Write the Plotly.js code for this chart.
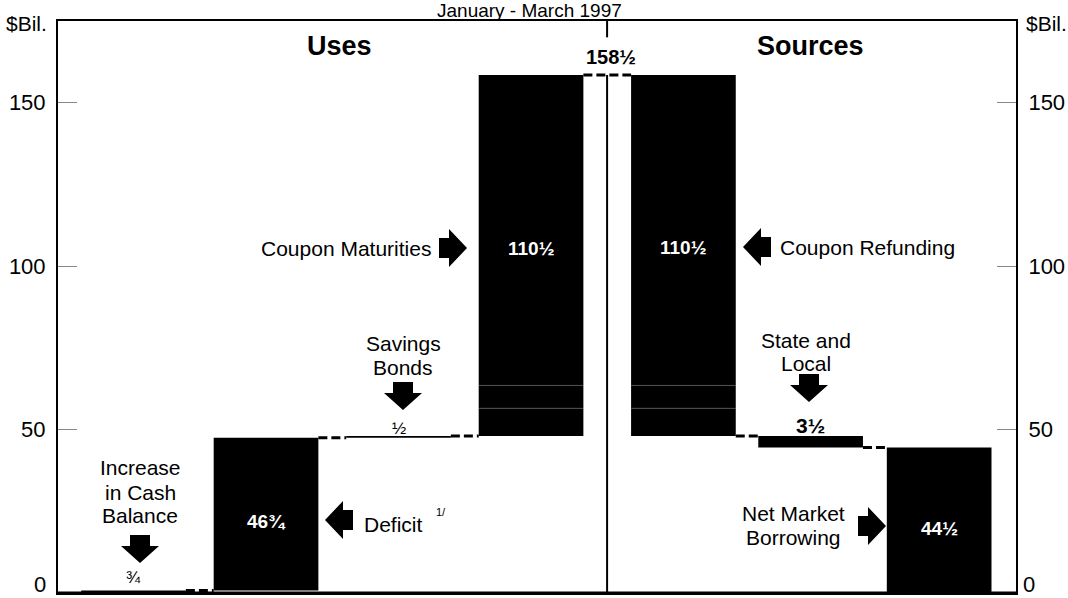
<!DOCTYPE html>
<html><head><meta charset="utf-8">
<script src="https://cdn.plot.ly/plotly-3.0.1.min.js"></script>
<style>html,body{margin:0;padding:0;background:#fff}#chart{width:1068px;height:598px}</style>
</head><body><div id="chart"></div>
<script>
// ---- data ($ billions) ----
const useLabels = ["Increase in Cash Balance", "Deficit", "Savings Bonds", "Coupon Maturities"];
const useValues = [0.75, 46.75, 0.5, 110.5];
const useValueText = ["¾", "46¾", "½", "110½"];
const sourceLabels = ["Coupon Refunding", "State and Local", "Net Market Borrowing"];
const sourceValues = [110.5, 3.5, 44.5];
const sourceValueText = ["110½", "3½", "44½"];
const couponParts = [8.5, 7, 95];   // faint sub-segments of the coupon bars, bottom to top
const totalText = "158½";
const yTickVals = [0, 50, 100, 150];
const yTickText = ["0", "50", "100", "150"];

// ---- layout positions (not data) ----
const usePos = [0, 1, 2, 3];
const sourcePos = [4.15, 5.11, 6.08];
const barWidth = 0.79;
const dividerX = 3.574;
const XR = [-0.57, 6.66], YR = [0, 175];
const FONT = "Liberation Sans, Arial, Helvetica, sans-serif";

// pixel helpers for annotation placement
const PX = v => (v - 58) / (958 / (XR[1] - XR[0])) + XR[0];
const PY = v => (593 - v) / (572 / (YR[1] - YR[0]));
const PPX = v => (v - 58) / 958;
const PPY = v => (593 - v) / 572;

// ---- waterfall geometry from the data ----
const useBase = []; let lvl = 0;
useValues.forEach(v => { useBase.push(lvl); lvl += v; });
const total = lvl;
const srcBase = []; let srcTop = total;
sourceValues.forEach(v => { srcTop -= v; srcBase.push(srcTop); });

const allPos = usePos.concat(sourcePos);
const allBase = useBase.concat(srcBase);
const allVal = useValues.concat(sourceValues);
const isCoupon = [false, false, false, true, true, false, false];

const plain = {x: [], base: [], y: []};
const coup = {x: [], base: [], y: []};
const segLines = {x: [], y: []};
allPos.forEach((p, i) => {
  if (isCoupon[i]) {
    let b = allBase[i];
    couponParts.forEach((h, k) => {
      coup.x.push(p); coup.base.push(b); coup.y.push(h);
      b += h;
      if (k < couponParts.length - 1) {
        segLines.x.push(p - barWidth / 2 + 0.005, p + barWidth / 2 - 0.005, null);
        segLines.y.push(b, b, null);
      }
    });
  } else {
    plain.x.push(p); plain.base.push(allBase[i]); plain.y.push(allVal[i]);
  }
});

// connectors between consecutive bars
const conn = {x: [], y: []};
for (let i = 0; i < allPos.length - 1; i++) {
  let level;
  if (i < usePos.length - 1) level = useBase[i + 1];
  else if (i === usePos.length - 1) level = total;
  else level = srcBase[i - usePos.length];
  conn.x.push(allPos[i] + barWidth / 2, allPos[i + 1] - barWidth / 2, null);
  conn.y.push(level, level, null);
}

const traces = [
  {type: "bar", x: plain.x, base: plain.base, y: plain.y, width: barWidth,
   marker: {color: "#000", line: {width: 0}}, hoverinfo: "skip"},
  {type: "bar", x: coup.x, base: coup.base, y: coup.y, width: barWidth,
   marker: {color: "#000", line: {width: 0}}, hoverinfo: "skip"},
  {type: "scatter", mode: "lines", x: segLines.x, y: segLines.y,
   line: {color: "#505050", width: 1}, hoverinfo: "skip"},
  {type: "scatter", mode: "lines", x: conn.x, y: conn.y,
   line: {color: "#000", width: 3, dash: "9px,4px"}, hoverinfo: "skip"},
  {type: "scatter", mode: "none", x: [0], y: [0], yaxis: "y2", hoverinfo: "skip"}
];

// ---- annotations ----
const ann = [];
function A(text, px, py, o) {
  o = o || {};
  const paper = !!o.paper;
  ann.push(Object.assign({
    text: text, xref: paper ? "paper" : "x", yref: paper ? "paper" : "y",
    x: (o.dx !== undefined ? o.dx : (paper ? PPX(px) : PX(px))),
    y: paper ? PPY(py) : PY(py),
    showarrow: false, xanchor: o.xa || "center", yanchor: "middle",
    font: {family: FONT, size: o.size || 21, color: o.color || "#000"}
  }));
}
A("January - March 1997", 529, 11, {paper: true, size: 19});
A("$Bil.", 26, 23, {paper: true});
A("$Bil.", 1046, 24, {paper: true});
// zero tick labels sit just above the bottom edge, as in the reference
A(yTickText[0], 48, 584, {paper: true, xa: "right", size: 22});
A(yTickText[0], 1021, 584, {paper: true, xa: "left", size: 22});
A("<b>Uses</b>", 339, 46, {size: 27});
A("<b>Sources</b>", 810, 46, {size: 27});
A("<b>" + totalText + "</b>", 611, 57, {size: 20});
A(useLabels[3], 433, 248, {xa: "right"});
A(sourceLabels[0], 778, 247, {xa: "left"});
A("Savings", 403, 343);
A("Bonds", 403, 367);
A("State and", 806, 340);
A("Local", 806, 363);
A("Increase", 140, 467);
A("in Cash", 140, 492);
A("Balance", 140, 515);
A(useLabels[1], 362, 524, {xa: "left"});
A("1/", 441, 512, {size: 11});
A("Net Market", 793, 513);
A("Borrowing", 793, 537);
// value labels
A(useValueText[0], 0, 577, {dx: usePos[0], size: 17});
A("<b>" + useValueText[1] + "</b>", 0, 521, {dx: usePos[1], size: 19, color: "#fff"});
A(useValueText[2], 0, 428, {dx: usePos[2], size: 17});
A("<b>" + useValueText[3] + "</b>", 0, 248, {dx: usePos[3], size: 19, color: "#fff"});
A("<b>" + sourceValueText[0] + "</b>", 0, 247, {dx: sourcePos[0], size: 19, color: "#fff"});
A("<b>" + sourceValueText[1] + "</b>", 0, 425, {dx: sourcePos[1], size: 21});
A("<b>" + sourceValueText[2] + "</b>", 0, 528, {dx: sourcePos[2], size: 19, color: "#fff"});

// ---- shapes: arrows, divider, borders ----
const ARROW = {
  right: "M0,0L-18,19L-18,10L-28,10L-28,-10L-18,-10L-18,-19Z",
  left: "M0,0L18,19L18,10L28,10L28,-10L18,-10L18,-19Z",
  down: "M0,0L-19,17L-10,17L-10,28L10,28L10,17L19,17Z"
};
const shapes = [];
function arrow(dir, px, py) {
  shapes.push({type: "path", xref: "x", yref: "y", xsizemode: "pixel", ysizemode: "pixel",
    xanchor: PX(px), yanchor: PY(py), path: ARROW[dir], fillcolor: "#000", line: {width: 0}});
}
arrow("right", 467, 248);
arrow("left", 743, 247);
arrow("left", 325, 520);
arrow("right", 886, 526);
arrow("down", 140, 563);
arrow("down", 403, 410);
arrow("down", 809, 402);

shapes.push({type: "line", xref: "x", yref: "y", x0: dividerX, x1: dividerX, y0: 0, y1: total,
  line: {color: "#000", width: 2}});
shapes.push({type: "line", xref: "x", yref: "y", x0: dividerX, x1: dividerX, y0: 170, y1: YR[1],
  line: {color: "#000", width: 2}});
shapes.push({type: "line", xref: "paper", yref: "paper", x0: 0, x1: 1, y0: 0, y1: 0,
  line: {color: "#000", width: 3}});

const shownTickText = yTickText.map((t, i) => (yTickVals[i] === 0 ? "" : t));
const yax = {
  range: YR, tickvals: yTickVals, ticktext: shownTickText, ticks: "inside", ticklen: 19,
  tickwidth: 1, tickcolor: "#888", showline: true, linewidth: 2, linecolor: "#000",
  showgrid: false, zeroline: false, ticklabelstandoff: 6,
  tickfont: {family: FONT, size: 22, color: "#000"}, fixedrange: true
};
const layout = {
  width: 1068, height: 598,
  margin: {l: 58, r: 52, t: 21, b: 5, pad: 0},
  paper_bgcolor: "#fff", plot_bgcolor: "#fff",
  showlegend: false, barmode: "overlay",
  font: {family: FONT, color: "#000"},
  xaxis: {range: XR, showticklabels: false, ticks: "", showgrid: false, zeroline: false,
          showline: true, mirror: true, linewidth: 2, linecolor: "#000", fixedrange: true},
  yaxis: yax,
  yaxis2: Object.assign({}, yax, {overlaying: "y", side: "right"}),
  annotations: ann,
  shapes: shapes
};
Plotly.newPlot("chart", traces, layout, {staticPlot: true, displayModeBar: false});
</script>
</body></html>
